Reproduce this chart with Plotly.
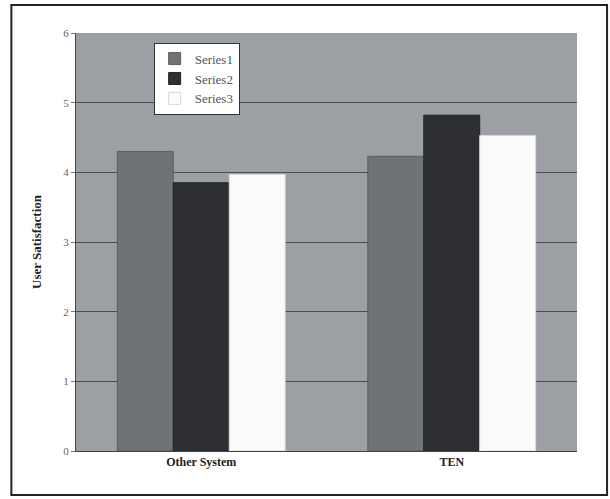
import plotly.graph_objects as go

categories = ["Other System", "TEN"]
series1 = [4.30, 4.23]
series2 = [3.85, 4.82]
series3 = [3.97, 4.53]
y_ticks = [0, 1, 2, 3, 4, 5, 6]

serif = "Liberation Serif, Times New Roman, serif"

fig = go.Figure()
fig.add_trace(go.Bar(name="Series1", x=categories, y=series1,
                     marker=dict(color="#6f7277", line=dict(color="#5a5d61", width=1))))
fig.add_trace(go.Bar(name="Series2", x=categories, y=series2,
                     marker=dict(color="#2d2f32", line=dict(color="#222326", width=1))))
fig.add_trace(go.Bar(name="Series3", x=categories, y=series3,
                     marker=dict(color="#fbfbfb", line=dict(color="#d8d8d8", width=1))))

# outer frame around the whole chart
fig.add_shape(type="rect", xref="paper", yref="paper",
              x0=-0.129, x1=1.06, y0=-0.105, y1=1.067,
              line=dict(color="#222222", width=2), fillcolor="rgba(0,0,0,0)",
              layer="below")

fig.update_layout(
    width=610, height=499,
    margin=dict(l=76, r=33, t=33, b=48),
    paper_bgcolor="white",
    plot_bgcolor="#9c9fa4",
    barmode="group",
    bargap=0.33,
    bargroupgap=0,
    font=dict(family=serif, color="#333333"),
    showlegend=True,
    legend=dict(
        x=0.155, y=0.977, xanchor="left", yanchor="top",
        bgcolor="white", bordercolor="#333333", borderwidth=1,
        font=dict(family=serif, size=13, color="#555555"),
        itemwidth=30, tracegroupgap=0,
    ),
    xaxis=dict(
        showgrid=False, showline=True, linecolor="#444444", linewidth=1,
        ticks="", tickfont=dict(family=serif, size=12, color="#222222"),
        tickprefix="<b>", ticksuffix="</b>",
    ),
    yaxis=dict(
        range=[0, 6], tickvals=y_ticks, ticktext=[str(v) for v in y_ticks],
        showgrid=True, gridcolor="#4a4c50", gridwidth=1,
        showline=True, linecolor="#444444", linewidth=1,
        ticks="outside", ticklen=4, tickcolor="#777777",
        tickfont=dict(family=serif, size=11, color="#666666"),
        zeroline=False,
        title=dict(text="<b>User Satisfaction</b>", standoff=18,
                   font=dict(family=serif, size=13, color="#222222")),
    ),
)

fig.write_html("out.html")
